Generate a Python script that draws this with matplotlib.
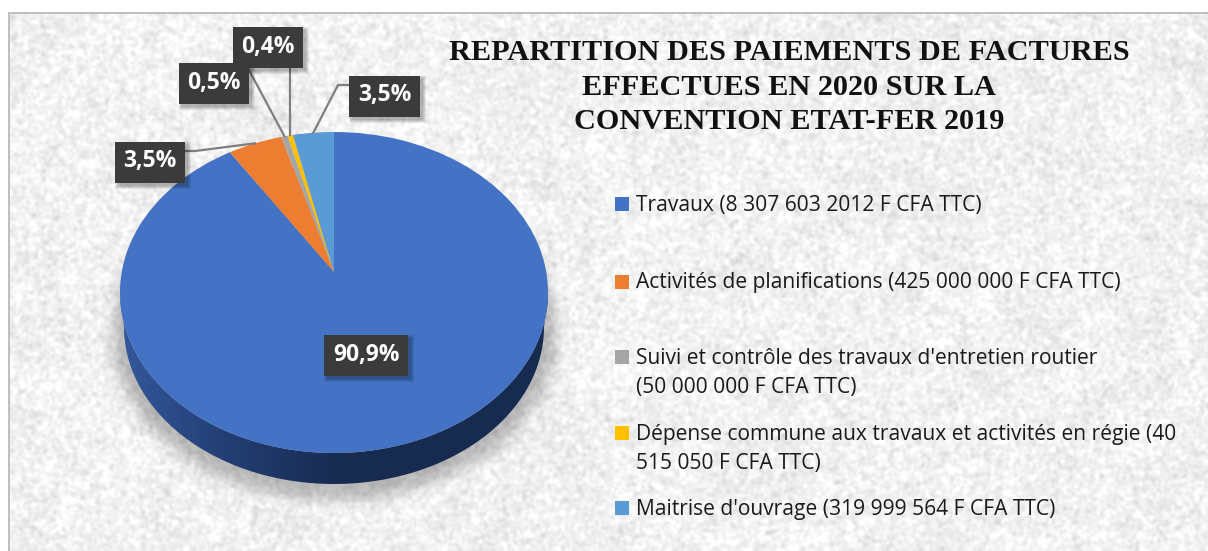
import matplotlib
matplotlib.use("Agg")
import matplotlib.pyplot as plt
import numpy as np
from matplotlib.patches import PathPatch, Rectangle
from matplotlib.path import Path
from matplotlib.transforms import Transform

W, H = 1208, 551

# amounts in F CFA TTC, order of the pie
categories = ["Travaux", "Activités de planifications", "Suivi et contrôle",
              "Dépense commune", "Maitrise d'ouvrage"]
amounts = [8307603201, 425000000, 50000000, 40515050, 319999564]
colors = ["#4472C4", "#ED7D31", "#A5A5A5", "#FFC000", "#5B9BD5"]
pct_labels = ["90,9%", "3,5%", "0,5%", "0,4%", "3,5%"]
legend_labels = [
    "Travaux (8 307 603 2012 F CFA TTC)",
    "Activités de planifications (425 000 000 F CFA TTC)",
    "Suivi et contrôle des travaux d'entretien routier\n(50 000 000 F CFA TTC)",
    "Dépense commune aux travaux et activités en régie (40\n515 050 F CFA TTC)",
    "Maitrise d'ouvrage (319 999 564 F CFA TTC)",
]
title_lines = ["REPARTITION DES PAIEMENTS DE FACTURES",
               "EFFECTUES EN 2020 SUR LA",
               "CONVENTION ETAT-FER 2019"]

# layout, pixels from the top left
cx, cy, rx, ry = 334, 292.5, 214, 160.5
apex_y = 272
bottom_cy, bottom_rx, bottom_ry = 327, 210, 157
box_h = 41
boxes = [(324, 335, 84), (115, 142, 70), (179, 63, 70), (233, 27, 70), (349, 76, 71)]
legend_y = [205.5, 282.5, 358.5, 434.5, 509.5]
legend_sw_y = [204, 282, 357, 433, 508]

# the pie is tilted, so its centre sits above the middle of the ellipse
up, down = apex_y - (cy - ry), (cy + ry) - apex_y
persp_a = (1 - up / down) / (1 + up / down)
persp_b = up * (1 + persp_a)
persp_k = rx * np.sqrt(1 - persp_a ** 2)


def project(xy):
    xy = np.asarray(xy, dtype=float)
    s = 1 + persp_a * xy[..., 1]
    return np.stack([cx + persp_k * xy[..., 0] / s, apex_y - persp_b * xy[..., 1] / s], -1)


class Tilt(Transform):
    input_dims = output_dims = 2

    def transform_non_affine(self, values):
        return project(values)


def blur(a, sigma):
    fy = np.fft.fftfreq(a.shape[0])[:, None]
    fx = np.fft.rfftfreq(a.shape[1])[None, :]
    g = np.exp(-2 * (np.pi * sigma) ** 2 * (fx ** 2 + fy ** 2))
    return np.fft.irfft2(np.fft.rfft2(a) * g, s=a.shape)


fig = plt.figure(figsize=(W / 100, H / 100), dpi=100, facecolor="white")
bg = fig.add_axes([0, 0, 1, 1])
bg.axis("off")

# paper texture of the chart area
rng = np.random.default_rng(7)
tex = blur(rng.normal(size=(H, W)), 1.6)
tex = tex / tex.std()
tex2 = blur(rng.normal(size=(H, W)), 12)
tex2 = tex2 / tex2.std()
grey = np.clip(0.945 + 0.026 * tex + 0.008 * tex2, 0.8, 1.0)

# soft shadow of the pie
yy, xx = np.mgrid[0:H, 0:W]
d = np.sqrt(((xx - cx) / (rx + 8)) ** 2 + ((yy - (bottom_cy + 6)) / (ry + 6)) ** 2)
shadow = blur((d < 1).astype(float), 7)
grey = grey * (1 - 0.25 * shadow)
bg.imshow(grey, extent=(0, W, H, 0), cmap="gray", vmin=0, vmax=1, aspect="auto",
          interpolation="bilinear", zorder=0)
bg.set_xlim(0, W)
bg.set_ylim(H, 0)
bg.add_patch(Rectangle((0, 0), W, 11.5, fc="white", ec="none", zorder=1))
bg.add_patch(Rectangle((0, 0), 7.5, H, fc="white", ec="none", zorder=1))
bg.add_patch(Rectangle((7.5, 11.5), W, 2.5, fc="#BFBFBF", ec="none", zorder=1))
bg.add_patch(Rectangle((7.5, 11.5), 2.5, H, fc="#BFBFBF", ec="none", zorder=1))

# side of the pie, dark gradient clipped between the two outlines
t = np.linspace(np.pi, 2 * np.pi, 200)
ex, ey = cx + rx * np.cos(t), cy - ry * np.sin(t)
lx, ly = cx + bottom_rx * np.cos(t), bottom_cy - bottom_ry * np.sin(t)
side = np.vstack([np.c_[lx, ly], np.c_[ex[::-1], ey[::-1]]])
clip = PathPatch(Path(side), fc="none", ec="none", transform=bg.transData)
bg.add_patch(clip)
ramp = np.array([[52, 88, 156], [35, 62, 115], [24, 44, 82], [23, 43, 80], [23, 43, 80]]) / 255
ramp_x = np.linspace(0, 1, 400)
grad = np.stack([np.interp(ramp_x, np.linspace(0, 1, 5), ramp[:, i]) for i in range(3)], -1)[None, :, :]
im = bg.imshow(grad, extent=(cx - rx, cx + rx, 490, cy), aspect="auto", zorder=2)
im.set_clip_path(clip)
bg.set_xlim(0, W)
bg.set_ylim(H, 0)

# top of the pie
pie_ax = fig.add_axes([0, 0, 1, 1])
wedges, _ = pie_ax.pie(amounts, colors=colors, startangle=90, counterclock=False,
                       radius=1, wedgeprops={"linewidth": 0})
pie_ax.set_aspect("auto")
pie_ax.set_xlim(0, W)
pie_ax.set_ylim(H, 0)
pie_ax.set_zorder(2)
pie_ax.patch.set_visible(False)
tilt = Tilt()
for w in wedges:
    w.set_transform(tilt + pie_ax.transData)
    w.set_clip_on(False)

over = fig.add_axes([0, 0, 1, 1])
over.set_xlim(0, W)
over.set_ylim(H, 0)
over.axis("off")
over.set_zorder(3)


def on_pie(wedge):
    a = np.deg2rad((wedge.theta1 + wedge.theta2) / 2)
    return project([np.cos(a), np.sin(a)])


# leaders from the slices to the boxes
line_kw = dict(color="#7F7F7F", lw=1.6, zorder=1, solid_joinstyle="miter")
x0, y0 = on_pie(wedges[1])
over.plot([x0, 195, 185], [y0, 151, 151], **line_kw)
x0, y0 = on_pie(wedges[2])
over.plot([x0, 249], [y0, 70], **line_kw)
x0, y0 = on_pie(wedges[3])
over.plot([x0, x0], [y0, 68], **line_kw)
x0, y0 = on_pie(wedges[4])
over.plot([x0, 338, 349], [y0, 85, 85], **line_kw)

# dark labels with their shadow
for (bx, by, bw), txt in zip(boxes, pct_labels):
    for grow in (3, 2, 1, 0):
        over.add_patch(Rectangle((bx + 3 - grow, by + 3 - grow), bw + 2 * grow, box_h + 2 * grow,
                                 fc="#000000", alpha=0.08, ec="none", zorder=2))
    over.add_patch(Rectangle((bx, by), bw, box_h, fc="#3B3B3B", ec="none", zorder=3))
    over.text(bx + bw / 2, by + box_h / 2 - 1, txt, color="white", fontsize=16.5, fontweight="bold",
              family="Open Sans", ha="center", va="center", zorder=4)

for i, line in enumerate(title_lines):
    over.text(789, [52.5, 87.5, 121.5][i], line, family="Liberation Serif", fontweight="bold",
              fontsize=21.8, color="#111111", ha="center", va="center")

# legend
for lab, col, y, sy in zip(legend_labels, colors, legend_y, legend_sw_y):
    over.add_patch(Rectangle((615, sy - 7), 14, 14, fc=col, ec="none"))
    for j, part in enumerate(lab.split("\n")):
        over.text(636, y + j * 29, part, family="Open Sans", fontsize=15.1, color="#1A1A1A",
                  ha="left", va="center")

fig.savefig("out.png", dpi=100, facecolor="white")
